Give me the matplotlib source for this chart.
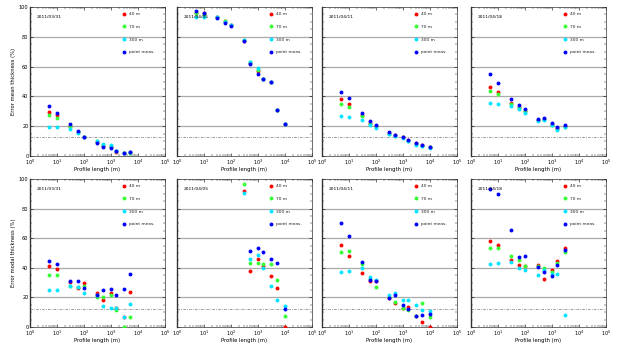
"""Error of mean / modal ice thickness versus profile length, four survey dates."""

import matplotlib

matplotlib.use("Agg")
import matplotlib.pyplot as plt
import numpy as np
from matplotlib.ticker import FixedLocator, LogFormatterMathtext, LogLocator, NullFormatter

DATES = ["2011/03/31", "2011/04/05", "2011/04/11", "2011/04/18"]
SERIES_LABELS = ["40 m", "70 m", "300 m", "point meas."]
SERIES_COLORS = ["#ff0000", "#33ff33", "#00e5ff", "#0000ff"]

# ---- mean thickness (top row) ----
MEAN_0331_X = [5, 10, 30, 60, 100, 300, 500, 1000, 1500, 3000, 5000]
MEAN_0331_40 = [29.5, 27.3, 20.0, 16.3, 12.8, 9.5, 7.0, 6.0, 3.0, 2.2, 2.4]
MEAN_0331_70 = [27.3, 25.6, 19.4, 16.0, 12.6, 9.8, 7.5, 6.8, 3.1, 2.2, 2.3]
MEAN_0331_300 = [19.6, 19.6, 18.3, 15.7, 12.5, 10.1, 7.9, 7.3, 3.2, 2.3, 2.4]
MEAN_0331_PT = [33.3, 28.9, 21.2, 16.8, 12.8, 8.8, 6.2, 5.1, 3.1, 2.2, 2.4]

MEAN_0405_X = [5, 10, 30, 60, 100, 300, 500, 1000, 1500, 3000, 5000, 10000]
MEAN_0405_40 = [96.0, 96.1, 93.0, 90.5, 88.0, 77.5, 62.5, 57.0, 51.6, 49.8, 30.7, 21.4]
MEAN_0405_70 = [95.7, 95.0, 93.5, 90.8, 88.2, 77.8, 62.8, 58.0, 51.6, 49.8, 30.7, 21.4]
MEAN_0405_300 = [93.5, 93.5, 93.0, 90.0, 87.8, 78.1, 63.1, 59.1, 51.8, 49.9, 30.8, 21.5]
MEAN_0405_PT = [97.2, 95.7, 92.4, 89.5, 87.3, 77.0, 62.0, 55.3, 51.6, 49.8, 30.7, 21.4]

MEAN_0411_X = [5, 10, 30, 60, 100, 300, 500, 1000, 1500, 3000, 5000, 10000]
MEAN_0411_40 = [38.1, 34.8, 27.3, 22.3, 20.3, 15.3, 13.8, 12.8, 10.6, 8.5, 7.1, 5.9]
MEAN_0411_70 = [34.8, 33.1, 26.7, 21.8, 20.0, 15.0, 13.6, 12.6, 10.4, 8.2, 7.0, 5.8]
MEAN_0411_300 = [26.7, 26.5, 24.0, 20.7, 19.0, 14.6, 13.5, 12.3, 10.1, 7.5, 6.8, 5.6]
MEAN_0411_PT = [43.2, 38.8, 28.9, 23.4, 20.9, 15.9, 14.1, 13.0, 11.0, 9.0, 7.3, 6.0]

MEAN_0418_X = [5, 10, 30, 60, 100, 300, 500, 1000, 1500, 3000]
MEAN_0418_40 = [46.5, 43.2, 35.5, 32.8, 30.5, 24.3, 25.0, 21.5, 18.5, 19.9]
MEAN_0418_70 = [43.9, 41.7, 34.8, 32.2, 30.0, 24.0, 24.6, 21.0, 17.9, 19.6]
MEAN_0418_300 = [35.3, 35.1, 33.3, 31.5, 28.9, 23.8, 24.3, 20.7, 17.4, 19.4]
MEAN_0418_PT = [55.3, 49.0, 38.1, 34.0, 31.8, 24.9, 25.6, 22.3, 19.6, 20.7]

# ---- modal thickness (bottom row) ----
MODAL_0331_X = [5, 10, 30, 60, 100, 300, 500, 1000, 1500, 3000, 5000]
MODAL_0331_40 = [40.9, 39.1, 30.5, 26.4, 29.6, 23.1, 18.4, 23.1, 12.9, 7.0, 23.8]
MODAL_0331_70 = [35.1, 35.1, 28.0, 27.0, 27.6, 20.2, 20.4, 21.8, 11.8, 0.0, 6.9]
MODAL_0331_300 = [24.9, 25.3, 27.6, 27.1, 23.3, 21.5, 14.4, 12.9, 12.7, 6.9, 15.8]
MODAL_0331_PT = [44.7, 42.4, 30.9, 31.1, 26.2, 21.3, 24.7, 26.0, 21.6, 26.0, 36.0]

MODAL_0405_X = [300, 500, 1000, 1500, 3000, 5000, 10000]
MODAL_0405_40 = [92.1, 38.0, 45.9, 41.5, 34.7, 26.4, 0.2]
MODAL_0405_70 = [96.9, 43.5, 43.1, 42.4, 42.4, 31.6, 7.5]
MODAL_0405_300 = [90.8, 45.9, 48.8, 39.8, 27.7, 18.5, 14.5]
MODAL_0405_PT = [np.nan, 51.4, 53.6, 50.8, 45.7, 43.5, 11.9]

MODAL_0411_X = [5, 10, 30, 60, 100, 300, 500, 1000, 1500, 3000, 5000, 10000]
MODAL_0411_40 = [55.6, 47.8, 36.8, 30.8, 31.0, 19.5, 16.5, 12.7, 13.4, 7.5, 3.2, 0.0]
MODAL_0411_70 = [50.7, 51.2, 42.3, 32.5, 26.9, 20.0, 16.7, 13.0, 11.6, 7.6, 16.0, 6.5]
MODAL_0411_300 = [37.2, 37.9, 39.7, 34.1, 31.5, 21.5, 22.7, 18.2, 18.2, 14.7, 11.6, 10.5]
MODAL_0411_PT = [70.6, 61.5, 43.9, 31.9, 31.3, 19.3, 21.5, 14.9, 12.0, 7.4, 8.3, 8.7]

MODAL_0418_X = [5, 10, 30, 60, 100, 300, 500, 1000, 1500, 3000]
MODAL_0418_40 = [58.0, 55.6, 45.5, 41.8, 41.3, 42.0, 32.5, 38.5, 44.6, 53.4]
MODAL_0418_70 = [53.4, 53.4, 48.1, 45.3, 41.5, 41.0, 39.8, 36.9, 43.0, 51.0]
MODAL_0418_300 = [42.6, 43.1, 43.7, 39.6, 38.2, 35.4, 38.5, 36.0, 36.0, 7.9]
MODAL_0418_PT = [93.4, 89.9, 65.7, 47.5, 47.9, 40.4, 37.1, 34.7, 42.0, 51.9]

TOP_ROW = [
    (MEAN_0331_X, [MEAN_0331_40, MEAN_0331_70, MEAN_0331_300, MEAN_0331_PT]),
    (MEAN_0405_X, [MEAN_0405_40, MEAN_0405_70, MEAN_0405_300, MEAN_0405_PT]),
    (MEAN_0411_X, [MEAN_0411_40, MEAN_0411_70, MEAN_0411_300, MEAN_0411_PT]),
    (MEAN_0418_X, [MEAN_0418_40, MEAN_0418_70, MEAN_0418_300, MEAN_0418_PT]),
]
BOTTOM_ROW = [
    (MODAL_0331_X, [MODAL_0331_40, MODAL_0331_70, MODAL_0331_300, MODAL_0331_PT]),
    (MODAL_0405_X, [MODAL_0405_40, MODAL_0405_70, MODAL_0405_300, MODAL_0405_PT]),
    (MODAL_0411_X, [MODAL_0411_40, MODAL_0411_70, MODAL_0411_300, MODAL_0411_PT]),
    (MODAL_0418_X, [MODAL_0418_40, MODAL_0418_70, MODAL_0418_300, MODAL_0418_PT]),
]

W, H = 617, 345
LEFTS_PX = [30, 177, 322, 471]
PANEL_W_PX = 135
ROWS_PX = [(7, 156), (179, 327)]  # (top, bottom) pixel of y=100 and y=0


def draw_panel(ax, x, series, date, first_col, ylabel):
    ax.set_xscale("log")
    ax.set_xlim(1, 1e5)
    ax.set_ylim(0, 100)
    for level in (20, 40, 60, 80):
        ax.axhline(level, color="#aaaaaa", linewidth=0.9, zorder=1)
    ax.axhline(12.5, color="#888888", linewidth=0.6, linestyle=(0, (3, 1.5, 1, 1.5)), zorder=1)
    for values, color, label in zip(series, SERIES_COLORS, SERIES_LABELS):
        ax.plot(x, values, linestyle="none", marker="o", markersize=2.8,
                markeredgewidth=0, color=color, label=label, zorder=3)

    ax.text(0.05, 0.93, date, transform=ax.transAxes, fontsize=3.2, va="center")
    leg = ax.legend(loc="upper left", bbox_to_anchor=(0.66, 0.985), frameon=False,
                    fontsize=3.2, labelspacing=1.9, handlelength=0.6,
                    handletextpad=1.0, numpoints=1, borderpad=0.2)
    for text in leg.get_texts():
        text.set_color("#222222")

    ax.xaxis.set_major_locator(LogLocator(base=10, numticks=10))
    ax.xaxis.set_major_formatter(LogFormatterMathtext())
    ax.xaxis.set_minor_locator(LogLocator(base=10, subs=np.arange(2, 10), numticks=20))
    ax.xaxis.set_minor_formatter(NullFormatter())
    ax.yaxis.set_major_locator(FixedLocator([0, 20, 40, 60, 80, 100]))
    ax.yaxis.set_minor_locator(FixedLocator(np.arange(0, 101, 5)))
    ax.tick_params(which="both", direction="in", top=True, right=True, labelsize=3.6, pad=1)
    ax.tick_params(axis="x", pad=1.5)
    ax.tick_params(which="major", length=2.5, width=0.4)
    ax.tick_params(which="minor", length=1.3, width=0.3)
    if not first_col:
        ax.tick_params(axis="y", labelleft=False)
    else:
        ax.set_ylabel(ylabel, fontsize=3.8, labelpad=2)
    ax.set_xlabel("Profile length (m)", fontsize=3.8, labelpad=0)
    for side, spine in ax.spines.items():
        spine.set_linewidth(1.0 if side == "left" else 0.5)
        spine.set_color("#333333")


def main():
    fig = plt.figure(figsize=(W / 100, H / 100), dpi=100)
    rows = [(TOP_ROW, "Error mean thickness (%)"), (BOTTOM_ROW, "Error modal thickness (%)")]
    for (panels, ylabel), (top_px, bottom_px) in zip(rows, ROWS_PX):
        for col, ((x, series), date) in enumerate(zip(panels, DATES)):
            rect = [LEFTS_PX[col] / W, 1 - bottom_px / H, PANEL_W_PX / W, (bottom_px - top_px) / H]
            ax = fig.add_axes(rect)
            draw_panel(ax, x, series, date, col == 0, ylabel)
    fig.savefig("out.png", dpi=100)
    plt.close(fig)


if __name__ == "__main__":
    main()
